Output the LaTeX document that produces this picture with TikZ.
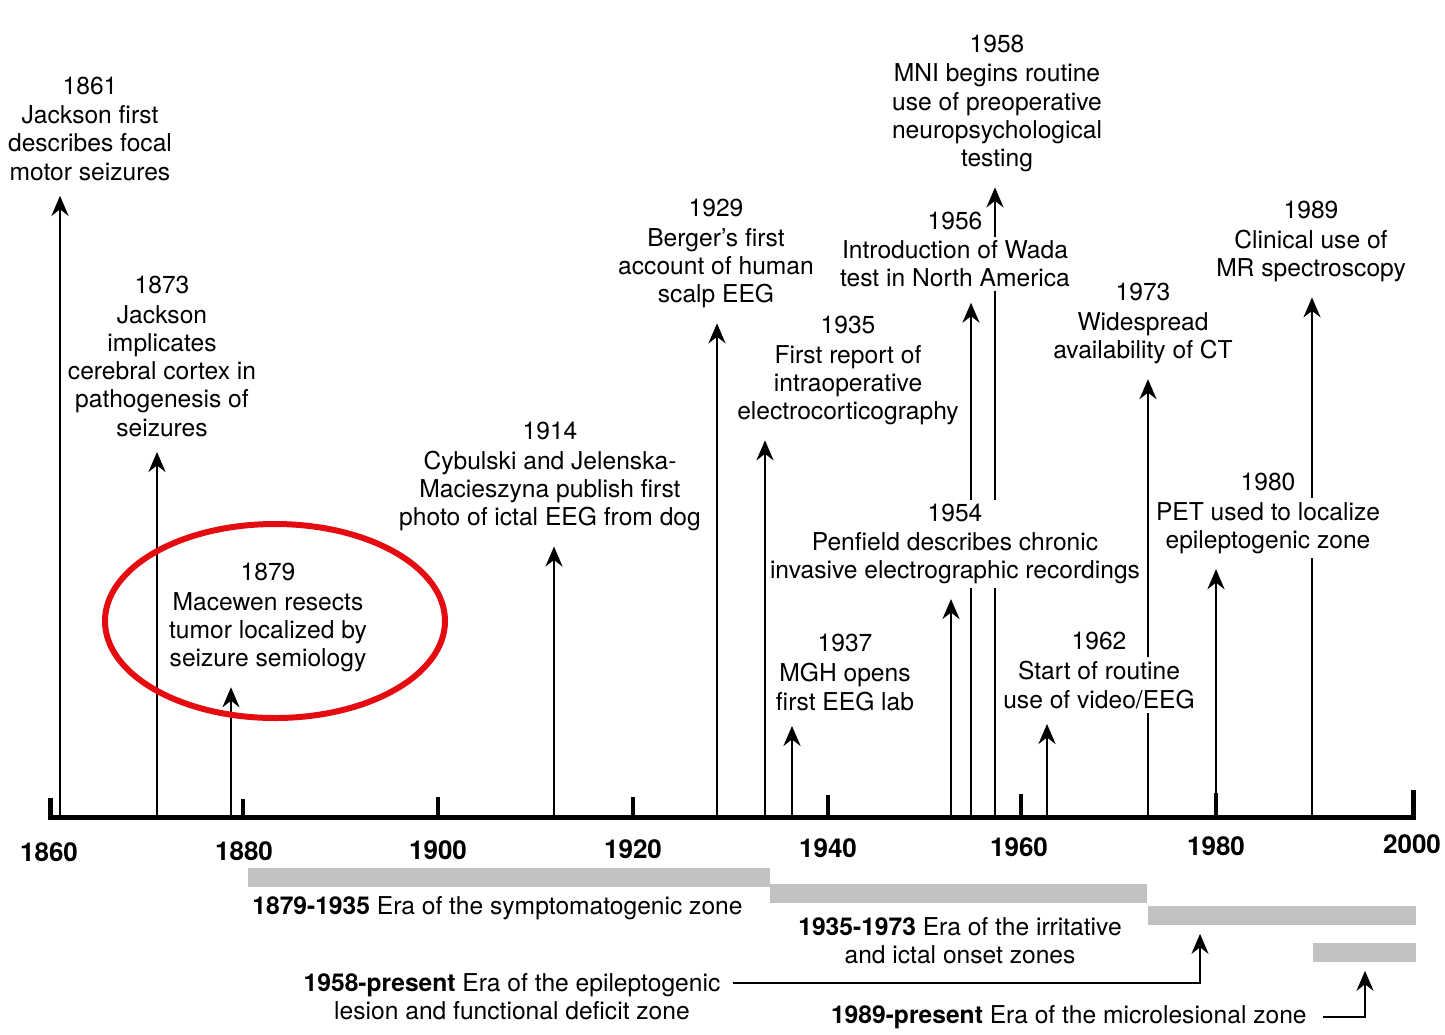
\documentclass[tikz,border=0pt]{standalone}
\usepackage{fontspec}
\setmainfont{TeX Gyre Heros}
\usepackage{xcolor}
\usepackage{tikz}
\usetikzlibrary{arrows.meta,backgrounds}
\definecolor{markred}{RGB}{228,12,16}

\begin{document}
\begin{tikzpicture}[x=0.5pt, y=-0.5pt, font=\fontsize{12.3}{14.1}\selectfont,
		lbl/.style={align=center, fill=white, inner xsep=0.5pt, inner ysep=2pt},
		label distance=3.2pt, every label/.style={inner sep=0pt},
		evt/.style={line width=1.4pt, shorten >=5.5pt, -{Stealth[length=10pt, width=8.5pt]}},
		yr/.style={font=\fontsize{13}{14}\selectfont\bfseries},
		tick/.style={line width=2pt},
		era/.style={fill=black!24, anchor=north west, inner sep=0pt, minimum height=9.5pt},
		eratxt/.style={align=center, inner sep=0pt}]
		\useasboundingbox (0,0) rectangle (1445,1034);
		% time axis
		\draw[line width=2.5pt] (50,798) -- (50,817) -- (1413,817) -- (1413,790);
		\draw[tick] (243,817) -- (243,799);
		\draw[tick] (438,817) -- (438,797);
		\draw[tick] (633,817) -- (633,797);
		\draw[tick] (828,817) -- (828,795);
		\draw[tick] (1021,817) -- (1021,794);
		\draw[tick] (1216,817) -- (1216,793);
		\node[yr] (t1860) at (49,852) {1860};
		\node[yr] (t1880) at (244,851) {1880};
		\node[yr] (t1900) at (438,850) {1900};
		\node[yr] (t1920) at (633,849) {1920};
		\node[yr] (t1940) at (828,848) {1940};
		\node[yr] (t1960) at (1019,847) {1960};
		\node[yr] (t1980) at (1216,846) {1980};
		\node[yr] (t2000) at (1412,844) {2000};

		% events
		\node[lbl, label=above:1861] (l1861) at (90,143) {Jackson first\\describes focal\\motor seizures};
		\node[lbl, label=above:1873] (l1873) at (162,371) {Jackson\\implicates\\cerebral cortex in\\pathogenesis of\\seizures};
		\node[lbl, label=above:1879] (l1879) at (268,632) {Macewen resects\\tumor localized by\\seizure semiology};
		\node[lbl, label=above:1914] (l1914) at (550,491) {Cybulski and Jelenska-\\Macieszyna publish first\\photo of ictal EEG from dog};
		\node[lbl, label=above:1929] (l1929) at (716,268) {Berger's first\\account of human\\scalp EEG};
		\node[lbl, label=above:1935] (l1935) at (848,385) {First report of\\intraoperative\\electrocorticography};
		\node[lbl, label=above:1937] (l1937) at (845,687) {MGH opens\\first EEG lab};
		\node[lbl] (l1954) at (955,544) {1954\\Penfield describes chronic\\invasive electrographic recordings};
		\node[lbl, label=above:1956] (l1956) at (955,264) {Introduction of Wada\\test in North America};
		\node[lbl, label=above:1958] (l1958) at (997,118) {MNI begins routine\\use of preoperative\\neuropsychological\\testing};
		\node[lbl, label=above:1962] (l1962) at (1099,685) {Start of routine\\use of video/EEG};
		\node[lbl, label=above:1973] (l1973) at (1143,338) {Widespread\\availability of CT};
		\node[lbl, label=above:1980] (l1980) at (1268,528) {PET used to localize\\epileptogenic zone};
		\node[lbl, label=above:1989] (l1989) at (1311,256) {Clinical use of\\MR spectroscopy};

		\coordinate (a1861) at (60,817);
		\coordinate (a1873) at (157,817);
		\coordinate (a1879) at (231,817);
		\coordinate (a1914) at (554,817);
		\coordinate (a1929) at (717,817);
		\coordinate (a1935) at (765,817);
		\coordinate (a1937) at (792,817);
		\coordinate (a1954) at (951,817);
		\coordinate (a1956) at (971,817);
		\coordinate (a1958) at (995,817);
		\coordinate (a1962) at (1047,817);
		\coordinate (a1973) at (1148,817);
		\coordinate (a1980) at (1216,817);
		\coordinate (a1989) at (1312,817);

		\begin{scope}[on background layer]
			\draw[evt] (a1861) -- (a1861 |- l1861.south);
			\draw[evt] (a1873) -- (a1873 |- l1873.south);
			\draw[evt] (a1879) -- (a1879 |- l1879.south);
			\draw[evt] (a1914) -- (a1914 |- l1914.south);
			\draw[evt] (a1929) -- (a1929 |- l1929.south);
			\draw[evt] (a1935) -- (a1935 |- l1935.south);
			\draw[evt] (a1937) -- (a1937 |- l1937.south);
			\draw[evt] (a1954) -- (a1954 |- l1954.south);
			\draw[evt] (a1956) -- (a1956 |- l1956.south);
			\draw[evt] (a1958) -- (a1958 |- l1958.south);
			\draw[evt] (a1962) -- (a1962 |- l1962.south);
			\draw[evt] (a1973) -- (a1973 |- l1973.south);
			\draw[evt] (a1980) -- (a1980 |- l1980.south);
			\draw[evt] (a1989) -- (a1989 |- l1989.south);
		\end{scope}

		% eras
		\node[era, minimum width=261pt] (z1) at (248,868) {};
		\node[era, minimum width=188.5pt] (z2) at (770,884) {};
		\node[era, minimum width=134pt] (z3) at (1148,906) {};
		\node[era, minimum width=51.5pt] (z4) at (1313,943) {};
		\node[anchor=west, inner sep=0pt] (n1) at (252,908) {\textbf{1879-1935} Era of the symptomatogenic zone};
		\node[eratxt] (n2) at (960,941) {\textbf{1935-1973} Era of the irritative\\and ictal onset zones};
		\node[eratxt] (n3) at (512,997) {\textbf{1958-present} Era of the epileptogenic\\lesion and functional deficit zone};
		\node[anchor=east, inner sep=0pt] (n4) at (1307,1017) {\textbf{1989-present} Era of the microlesional zone};
		\coordinate (k3) at (1200,983);
		\coordinate (k4) at (1365,1017);
		\draw[evt, line width=1pt, shorten >=4pt] ([xshift=6pt]n3.east |- k3) -- (k3) -- (k3 |- z3.south);
		\draw[evt, line width=1pt, shorten >=4pt] ([xshift=8pt]n4.east) -- (k4) -- (k4 |- z4.south);

		% highlight
		\draw[markred, line width=3pt] (275,621) ellipse [x radius=170, y radius=97];
	\end{tikzpicture}
\end{document}
